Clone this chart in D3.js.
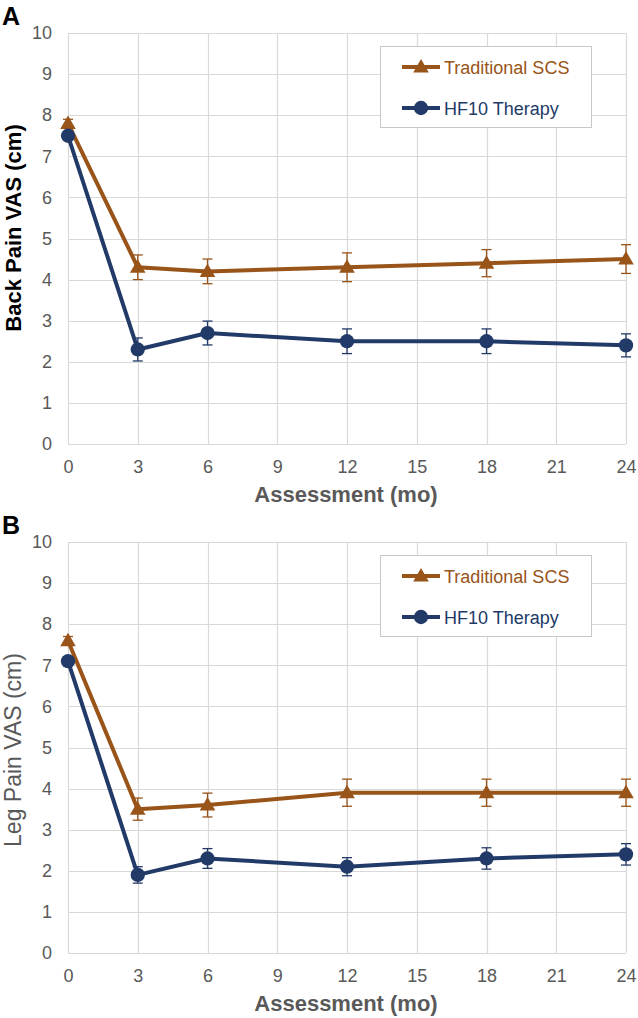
<!DOCTYPE html>
<html>
<head>
<meta charset="utf-8">
<script src="https://cdn.jsdelivr.net/npm/d3@7"></script>
<style>
html,body{margin:0;padding:0;background:#fff;}
svg{display:block;font-family:"Liberation Sans",Arial,sans-serif;}
</style>
</head>
<body>
<svg id="chart" width="638" height="1018"></svg>
<script>
// ---- data ----
const months = [0, 3, 6, 12, 18, 24];
const xTicks = [0, 3, 6, 9, 12, 15, 18, 21, 24];
const yTicks = [0, 1, 2, 3, 4, 5, 6, 7, 8, 9, 10];
const seriesNames = ["Traditional SCS", "HF10 Therapy"];

const backTraditional = [7.8, 4.3, 4.2, 4.3, 4.4, 4.5];
const backTraditionalErr = [0.1, 0.3, 0.3, 0.35, 0.33, 0.35];
const backHF10 = [7.5, 2.3, 2.7, 2.5, 2.5, 2.4];
const backHF10Err = [0.1, 0.28, 0.29, 0.3, 0.3, 0.28];

const legTraditional = [7.6, 3.5, 3.6, 3.9, 3.9, 3.9];
const legTraditionalErr = [0.1, 0.27, 0.29, 0.33, 0.33, 0.33];
const legHF10 = [7.1, 1.9, 2.3, 2.1, 2.3, 2.4];
const legHF10Err = [0.1, 0.2, 0.24, 0.22, 0.26, 0.26];

const panelLabels = ["A", "B"];
const yTitles = ["Back Pain VAS (cm)", "Leg Pain VAS (cm)"];
const xTitle = "Assessment (mo)";

// ---- styles ----
const colTrad = "#985419";
const colHF = "#223a67";
const gridCol = "#d9d9d9";
const tickCol = "#595959";

const svg = d3.select("#chart");

const panels = [
  {label: panelLabels[0], yTitle: yTitles[0], yTitleCol: "#000", yTitleWeight: "bold", yTitleSize: 22, yTitleCenter: 228, top: 0,
   trad: backTraditional, tradErr: backTraditionalErr, hf: backHF10, hfErr: backHF10Err},
  {label: panelLabels[1], yTitle: yTitles[1], yTitleCol: tickCol, yTitleWeight: "normal", yTitleSize: 23, yTitleCenter: 241, top: 509,
   trad: legTraditional, tradErr: legTraditionalErr, hf: legHF10, hfErr: legHF10Err}
];

panels.forEach(p => {
  const g = svg.append("g").attr("transform", `translate(0,${p.top})`);
  const x = d3.scaleLinear().domain([0, 24]).range([68, 626]);
  const y = d3.scaleLinear().domain([0, 10]).range([444, 33]);

  // panel letter
  g.append("text").attr("x", 2).attr("y", 25)
    .attr("font-size", 25).attr("font-weight", "bold").attr("fill", "#000")
    .text(p.label);

  // grid
  g.append("g").selectAll("line.h").data(yTicks).join("line")
    .attr("x1", x(0)).attr("x2", x(24))
    .attr("y1", d => Math.round(y(d)) + 0.5).attr("y2", d => Math.round(y(d)) + 0.5)
    .attr("stroke", gridCol).attr("stroke-width", 1.2);
  g.append("g").selectAll("line.v").data(xTicks).join("line")
    .attr("y1", y(0)).attr("y2", y(10))
    .attr("x1", d => Math.round(x(d)) + 0.5).attr("x2", d => Math.round(x(d)) + 0.5)
    .attr("stroke", gridCol).attr("stroke-width", 1.2);

  // axes labels via d3 axes
  const yAxis = g.append("g").attr("transform", `translate(${x(0)},0)`)
    .call(d3.axisLeft(y).tickValues(yTicks).tickSize(0).tickPadding(16));
  yAxis.select(".domain").remove();
  yAxis.selectAll("text").attr("font-size", 18).attr("fill", tickCol)
    .attr("font-family", "Liberation Sans, Arial, sans-serif");

  const xAxis = g.append("g").attr("transform", `translate(0,${y(0)})`)
    .call(d3.axisBottom(x).tickValues(xTicks).tickSize(0).tickPadding(16));
  xAxis.select(".domain").remove();
  xAxis.selectAll("text").attr("font-size", 18).attr("fill", tickCol)
    .attr("font-family", "Liberation Sans, Arial, sans-serif");

  // axis titles
  g.append("text").attr("x", 346).attr("y", 502)
    .attr("text-anchor", "middle").attr("font-size", 22).attr("font-weight", "bold")
    .attr("fill", tickCol).text(xTitle);
  g.append("text")
    .attr("transform", `translate(21,${p.yTitleCenter}) rotate(-90)`)
    .attr("text-anchor", "middle").attr("font-size", p.yTitleSize).attr("font-weight", p.yTitleWeight)
    .attr("fill", p.yTitleCol).text(p.yTitle);

  const series = [
    {vals: p.trad, err: p.tradErr, col: colTrad, sym: d3.symbolTriangle, size: 105},
    {vals: p.hf, err: p.hfErr, col: colHF, sym: d3.symbolCircle, size: 160}
  ];

  // error bars
  series.forEach(s => {
    const eg = g.append("g").attr("stroke", s.col).attr("stroke-width", 1.3);
    months.forEach((m, i) => {
      const cx = x(m), y1 = y(s.vals[i] + s.err[i]), y2 = y(s.vals[i] - s.err[i]);
      eg.append("line").attr("x1", cx).attr("x2", cx).attr("y1", y1).attr("y2", y2);
      eg.append("line").attr("x1", cx - 5).attr("x2", cx + 5).attr("y1", y1).attr("y2", y1);
      eg.append("line").attr("x1", cx - 5).attr("x2", cx + 5).attr("y1", y2).attr("y2", y2);
    });
  });

  // lines + markers
  const line = d3.line().x((d, i) => x(months[i])).y(d => y(d));
  series.forEach(s => {
    g.append("path").datum(s.vals).attr("d", line)
      .attr("fill", "none").attr("stroke", s.col).attr("stroke-width", 4)
      .attr("stroke-linejoin", "round");
    g.append("g").selectAll("path").data(s.vals).join("path")
      .attr("d", d3.symbol().type(s.sym).size(s.size))
      .attr("transform", (d, i) => `translate(${x(months[i])},${y(d) + (s.sym === d3.symbolTriangle ? 1 : 0)})`)
      .attr("fill", s.col);
  });

  // legend
  const lg = g.append("g");
  lg.append("rect").attr("x", 380.5).attr("y", 46.5).attr("width", 211).attr("height", 81)
    .attr("fill", "#fff").attr("stroke", "#c8c8c8").attr("stroke-width", 1);
  series.forEach((s, i) => {
    const ly = 67 + i * 41;
    lg.append("line").attr("x1", 402).attr("x2", 440).attr("y1", ly).attr("y2", ly)
      .attr("stroke", s.col).attr("stroke-width", 4);
    lg.append("path").attr("d", d3.symbol().type(s.sym).size(s.size))
      .attr("transform", `translate(421,${ly + (s.sym === d3.symbolTriangle ? 1 : 0)})`)
      .attr("fill", s.col);
    lg.append("text").attr("x", 444).attr("y", ly + 6.5).attr("font-size", 18)
      .attr("fill", s.col).text(seriesNames[i]);
  });
});
</script>
</body>
</html>
